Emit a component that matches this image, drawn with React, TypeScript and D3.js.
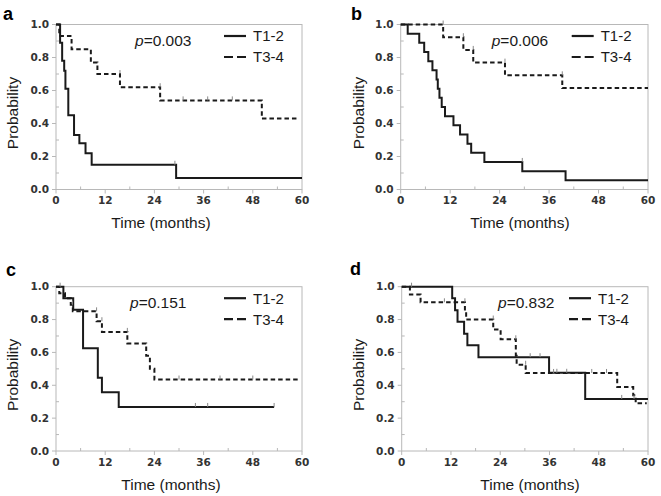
import React from "react";
import * as d3 from "d3";

// ---------- data ----------
const timeTicks = [0, 12, 24, 36, 48, 60];
const probTicks = [0, 0.2, 0.4, 0.6, 0.8, 1.0];
const seriesNames = ["T1-2", "T3-4"];
const panelLetters = ["a", "b", "c", "d"];
const pValues = ["0.003", "0.006", "0.151", "0.832"];

// Kaplan-Meier steps: [time (months), survival probability after the event]
const aT12 = [[0, 1], [1.0, 0.89], [1.5, 0.78], [2.0, 0.72], [2.3, 0.61], [3.0, 0.45], [4.4, 0.33], [5.7, 0.28], [7.2, 0.22], [8.7, 0.15], [29.3, 0.07], [60, 0.07]];
const aT34 = [[0, 1], [0.8, 0.93], [3.8, 0.85], [8.5, 0.77], [10.1, 0.7], [15.6, 0.62], [25.4, 0.54], [50.2, 0.43], [58.8, 0.43]];
const bT12 = [[0, 1], [1.7, 0.944], [4.5, 0.889], [5.7, 0.833], [6.7, 0.778], [7.7, 0.722], [8.7, 0.667], [9.0, 0.611], [9.4, 0.556], [9.95, 0.5], [10.75, 0.444], [12.8, 0.389], [14.4, 0.333], [16.2, 0.278], [17.1, 0.222], [20.3, 0.167], [29.5, 0.111], [40, 0.056], [60, 0.056]];
const bT34 = [[0, 1], [10.3, 0.923], [15.2, 0.846], [17.6, 0.769], [25.3, 0.692], [39.2, 0.615], [60, 0.615]];
const cT12 = [[0, 1], [1.8, 0.93], [4.2, 0.86], [6.6, 0.625], [10.2, 0.446], [11.2, 0.357], [15.3, 0.268], [53.2, 0.268]];
const cT34 = [[0, 1], [0.8, 0.96], [2.2, 0.93], [3.6, 0.89], [4.1, 0.85], [9.9, 0.79], [11.2, 0.725], [17.4, 0.655], [22.0, 0.58], [22.9, 0.5], [24.0, 0.435], [59.5, 0.435]];
const dT12 = [[0, 1], [12.3, 0.929], [13.0, 0.857], [13.6, 0.786], [15.2, 0.714], [16.0, 0.643], [18.7, 0.571], [35.9, 0.476], [44.7, 0.317], [60, 0.317]];
const dT34 = [[0, 1], [2.0, 0.952], [4.6, 0.905], [15.4, 0.855], [15.7, 0.8], [22.3, 0.74], [24.1, 0.68], [27.8, 0.58], [28.0, 0.525], [30.2, 0.475], [52.5, 0.39], [56.4, 0.34], [57.0, 0.29], [59.7, 0.29]];

// censored observations (small tick marks)
const aCens12 = [[29.0, 0.15]];
const aCens34 = [[15.6, 0.7], [25.4, 0.62], [31, 0.54], [37, 0.54], [43, 0.54]];
const bCens12 = [[29.5, 0.167]];
const bCens34 = [[10.3, 1], [15.2, 0.923], [17.6, 0.846], [25.3, 0.769], [39.2, 0.692]];
const cCens12 = [[34, 0.268], [37, 0.268], [53.2, 0.268]];
const cCens34 = [[1.0, 1], [4.0, 0.89], [9.9, 0.85], [11.2, 0.79], [17.4, 0.725], [30, 0.435], [40, 0.435], [48, 0.435]];
const dCens12 = [[31.3, 0.571], [33.7, 0.571], [37.8, 0.476], [40.2, 0.476], [53.6, 0.317], [56.6, 0.317]];
const dCens34 = [[2.4, 1], [10.4, 0.905], [15.4, 0.905], [22.3, 0.8], [27.8, 0.68], [30.2, 0.525], [37, 0.475], [46.3, 0.475], [49.9, 0.475]];

const curves12 = [aT12, bT12, cT12, dT12];
const curves34 = [aT34, bT34, cT34, dT34];
const cens12 = [aCens12, bCens12, cCens12, dCens12];
const cens34 = [aCens34, bCens34, cCens34, dCens34];

// ---------- layout ----------
const layouts = [
  { left: 56, right: 302, top: 24.5, bottom: 189.5, ylabX: 12, titleX: 161, letterX: 3, letterY: 20, pX: 135, legX: 224 },
  { left: 400.7, right: 648, top: 24.5, bottom: 189.5, ylabX: 358, titleX: 520, letterX: 351, letterY: 20, pX: 491.7, legX: 571.7 },
  { left: 56, right: 302, top: 286.7, bottom: 451, ylabX: 12, titleX: 171, letterX: 6, letterY: 276, pX: 130, legX: 224 },
  { left: 401.7, right: 648, top: 286.7, bottom: 451, ylabX: 358, titleX: 530, letterX: 350, letterY: 275, pX: 498, legX: 569 },
];

const SANS = "'Liberation Sans', Arial, sans-serif";
const TICKFONT = "'DejaVu Sans', Verdana, sans-serif";
const INK = "#1a1a1a";
const FRAME = "#b8b8b8";

function Panel({ i }: { i: number }) {
  const L = layouts[i];
  const x = d3.scaleLinear().domain([0, 60]).range([L.left, L.right]);
  const y = d3.scaleLinear().domain([0, 1]).range([L.bottom, L.top]);
  const line = d3
    .line<number[]>()
    .x((d) => x(d[0]))
    .y((d) => y(d[1]))
    .curve(d3.curveStepAfter);
  const minorX = d3.range(6, 60, 12);
  const minorY = d3.range(0.1, 1, 0.2);
  const midY = (L.top + L.bottom) / 2;
  return (
    <g>
      {/* frame */}
      <rect x={L.left} y={L.top} width={L.right - L.left} height={L.bottom - L.top} fill="none" stroke={FRAME} strokeWidth={1} />
      {/* y ticks */}
      {probTicks.map((t) => (
        <g key={"y" + t}>
          <line x1={L.left - 4} x2={L.left} y1={y(t)} y2={y(t)} stroke={FRAME} />
          <text x={L.left - 7} y={y(t)} dy="0.36em" textAnchor="end" fontFamily={TICKFONT} fontWeight="bold" fontSize={10.5} fill="#333">
            {t.toFixed(1)}
          </text>
        </g>
      ))}
      {minorY.map((t) => (
        <line key={"my" + t} x1={L.left} x2={L.left + 3} y1={y(t)} y2={y(t)} stroke={FRAME} />
      ))}
      {/* x ticks */}
      {timeTicks.map((t) => (
        <g key={"x" + t}>
          <line x1={x(t)} x2={x(t)} y1={L.bottom} y2={L.bottom + 4} stroke={FRAME} />
          <text x={x(t)} y={L.bottom + 11} dy="0.36em" textAnchor="middle" fontFamily={TICKFONT} fontWeight="bold" fontSize={10.5} fill="#333">
            {t}
          </text>
        </g>
      ))}
      {minorX.map((t) => (
        <line key={"mx" + t} x1={x(t)} x2={x(t)} y1={L.bottom} y2={L.bottom - 3} stroke={FRAME} />
      ))}
      {/* curves */}
      <path d={line(curves34[i] as number[][]) || ""} fill="none" stroke={INK} strokeWidth={2} strokeDasharray="4.5,3" />
      <path d={line(curves12[i] as number[][]) || ""} fill="none" stroke={INK} strokeWidth={2} />
      {cens34[i].map((c, k) => (
        <line key={"c34" + k} x1={x(c[0])} x2={x(c[0])} y1={y(c[1]) - 4} y2={y(c[1])} stroke="#888" strokeWidth={1} />
      ))}
      {cens12[i].map((c, k) => (
        <line key={"c12" + k} x1={x(c[0])} x2={x(c[0])} y1={y(c[1]) - 4} y2={y(c[1])} stroke="#888" strokeWidth={1} />
      ))}
      {/* p value */}
      <text x={L.pX} y={L.top + 21} fontFamily={SANS} fontSize={15.5} fill={INK}>
        <tspan fontStyle="italic">p</tspan>={pValues[i]}
      </text>
      {/* legend */}
      <line x1={L.legX} x2={L.legX + 22} y1={L.top + 11.5} y2={L.top + 11.5} stroke={INK} strokeWidth={2.2} />
      <line x1={L.legX} x2={L.legX + 22} y1={L.top + 32.5} y2={L.top + 32.5} stroke={INK} strokeWidth={2.2} strokeDasharray="9,4" />
      <text x={L.legX + 29} y={L.top + 11.5} dy="0.36em" fontFamily={SANS} fontSize={15} fill={INK}>{seriesNames[0]}</text>
      <text x={L.legX + 29} y={L.top + 32.5} dy="0.36em" fontFamily={SANS} fontSize={15} fill={INK}>{seriesNames[1]}</text>
      {/* axis titles */}
      <text x={L.titleX} y={L.bottom + 33} dy="0.36em" textAnchor="middle" fontFamily={SANS} fontSize={15.5} fill={INK}>
        Time (months)
      </text>
      <text transform={`translate(${L.ylabX},${midY + 6}) rotate(-90)`} dy="0.36em" textAnchor="middle" fontFamily={SANS} fontSize={15.5} fill={INK}>
        Probability
      </text>
      {/* panel letter */}
      <text x={L.letterX} y={L.letterY} fontFamily={SANS} fontWeight="bold" fontSize={18} fill="#000">
        {panelLetters[i]}
      </text>
    </g>
  );
}

export default function App() {
  return (
    <svg width={661} height={496} style={{ position: "absolute", left: 0, top: 0, background: "#fff" }}>
      <rect width={661} height={496} fill="#fff" />
      {[0, 1, 2, 3].map((i) => (
        <Panel key={i} i={i} />
      ))}
    </svg>
  );
}
